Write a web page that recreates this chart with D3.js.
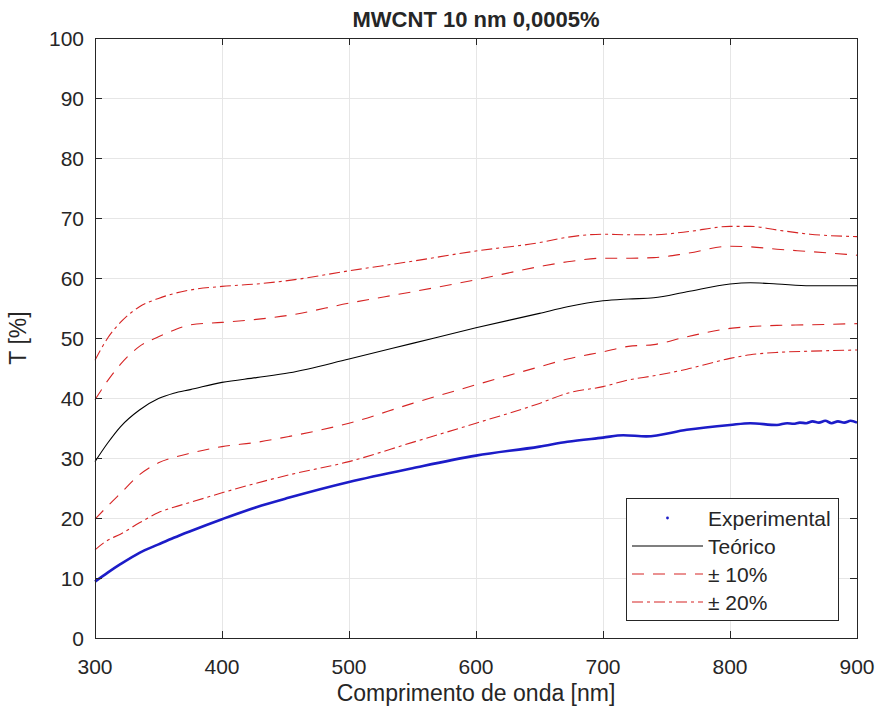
<!DOCTYPE html>
<html>
<head>
<meta charset="utf-8">
<script src="https://cdn.jsdelivr.net/npm/d3@7"></script>
<style>
  body { margin: 0; background: #fff; }
  text { font-family: "Liberation Sans", Arial, sans-serif; fill: #262626; }
</style>
</head>
<body>
<svg id="chart" width="882" height="717"></svg>
<script>
// wavelengths [nm] for the model curves
const lambda = [300, 310, 320, 335, 350, 362, 375, 400, 427, 453, 500, 550, 600,
  650, 672, 700, 720, 740, 766, 800, 816, 837, 863, 900];

const teorico = [29.4, 32.5, 35.2, 38, 39.9, 40.8, 41.4, 42.6, 43.4, 44.2, 46.5, 49.1,
  51.7, 54.1, 55.2, 56.2, 56.5, 56.7, 57.7, 59, 59.2, 59, 58.7, 58.7];
const plus10 = [39.7, 42.9, 45.6, 48.6, 50.2, 51.3, 52.2, 52.6, 53.1, 53.8, 55.8, 57.7,
  59.7, 61.9, 62.7, 63.3, 63.3, 63.4, 64.1, 65.3, 65.2, 64.8, 64.4, 63.8];
const minus10 = [19.8, 22, 24.1, 27.2, 29.2, 30.1, 30.8, 31.9, 32.6, 33.6, 35.8, 39.1,
  42.2, 45.2, 46.5, 47.7, 48.6, 48.9, 50.2, 51.6, 51.9, 52.1, 52.2, 52.4];
const plus20 = [46.3, 50, 52.6, 55.2, 56.6, 57.4, 58, 58.6, 59, 59.6, 61.2, 62.8,
  64.5, 65.9, 66.8, 67.3, 67.2, 67.2, 67.7, 68.6, 68.6, 68, 67.3, 66.9];
const minus20 = [14.7, 16.3, 17.3, 19.2, 20.9, 21.8, 22.6, 24.2, 25.8, 27.2, 29.4, 32.6,
  35.8, 39.1, 40.8, 41.9, 43, 43.7, 44.8, 46.6, 47.2, 47.6, 47.8, 48];

// measured spectrum
const lambdaExp = [300, 310, 320, 335, 350, 362, 375, 400, 427, 453, 500, 550, 600, 650,
  672, 700, 716, 734, 766, 800, 816, 837, 845, 850, 855, 860, 865, 870, 875, 880, 885,
  890, 895, 900];
const experimental = [9.4, 10.9, 12.3, 14.2, 15.6, 16.7, 17.8, 19.8, 21.8, 23.4, 26, 28.3,
  30.4, 31.9, 32.7, 33.4, 33.8, 33.6, 34.7, 35.5, 35.8, 35.5, 35.8, 35.7, 35.9, 35.8,
  36.1, 35.9, 36.2, 35.8, 36.1, 35.9, 36.2, 35.9];

const xTicks = [300, 400, 500, 600, 700, 800, 900];
const yTicks = [0, 10, 20, 30, 40, 50, 60, 70, 80, 90, 100];

const title = "MWCNT 10 nm 0,0005%";
const xLabel = "Comprimento de onda [nm]";
const yLabel = "T [%]";
const legendLabels = ["Experimental", "Teórico", "± 10%", "± 20%"];

const svg = d3.select("#chart"),
  plotLeft = 95,
  plotRight = 857,
  plotTop = 38,
  plotBottom = 638,
  axisColor = "#262626",
  gridColor = "#e6e6e6",
  red = "#d62424",
  blue = "#1c1cc8";

const x = d3.scaleLinear().domain([300, 900]).range([plotLeft, plotRight]);
const y = d3.scaleLinear().domain([0, 100]).range([plotBottom, plotTop]);

// grid
const grid = svg.append("g").attr("stroke", gridColor).attr("stroke-width", 1)
  .attr("shape-rendering", "crispEdges");
grid.selectAll(".gx").data(xTicks.slice(1, -1)).enter().append("line")
  .attr("x1", x).attr("x2", x).attr("y1", plotTop).attr("y2", plotBottom);
grid.selectAll(".gy").data(yTicks.slice(1, -1)).enter().append("line")
  .attr("y1", y).attr("y2", y).attr("x1", plotLeft).attr("x2", plotRight);

// curves
const line = (xs) => d3.line()
  .x((d, i) => x(xs[i]))
  .y((d) => y(d))
  .curve(d3.curveMonotoneX);

const plot = svg.append("g").attr("fill", "none");

[
  { data: minus20, dash: "11,4,3,4" },
  { data: plus20, dash: "11,4,3,4" },
  { data: minus10, dash: "12,9" },
  { data: plus10, dash: "12,9" },
].forEach((s) => {
  plot.append("path")
    .attr("d", line(lambda)(s.data))
    .attr("stroke", red)
    .attr("stroke-width", 1.1)
    .attr("stroke-dasharray", s.dash);
});

plot.append("path")
  .attr("d", line(lambda)(teorico))
  .attr("stroke", "#000")
  .attr("stroke-width", 1.1);

plot.append("path")
  .attr("d", line(lambdaExp)(experimental))
  .attr("stroke", blue)
  .attr("stroke-width", 2.6)
  .attr("stroke-linejoin", "round");

// axes box with inward ticks on all sides
const axes = svg.append("g").attr("stroke", axisColor).attr("stroke-width", 1)
  .attr("shape-rendering", "crispEdges");
axes.append("rect")
  .attr("x", plotLeft).attr("y", plotTop)
  .attr("width", plotRight - plotLeft).attr("height", plotBottom - plotTop)
  .attr("fill", "none");
const tickLen = 7;
xTicks.forEach((t) => {
  axes.append("line").attr("x1", x(t)).attr("x2", x(t)).attr("y1", plotBottom).attr("y2", plotBottom - tickLen);
  axes.append("line").attr("x1", x(t)).attr("x2", x(t)).attr("y1", plotTop).attr("y2", plotTop + tickLen);
});
yTicks.forEach((t) => {
  axes.append("line").attr("y1", y(t)).attr("y2", y(t)).attr("x1", plotLeft).attr("x2", plotLeft + tickLen);
  axes.append("line").attr("y1", y(t)).attr("y2", y(t)).attr("x1", plotRight).attr("x2", plotRight - tickLen);
});

// tick labels
svg.append("g").selectAll("text").data(xTicks).enter().append("text")
  .attr("x", x).attr("y", plotBottom + 36)
  .attr("text-anchor", "middle")
  .attr("font-size", 21)
  .text((d) => d);
svg.append("g").selectAll("text").data(yTicks).enter().append("text")
  .attr("x", plotLeft - 11).attr("y", (d) => y(d) + 7.5)
  .attr("text-anchor", "end")
  .attr("font-size", 21)
  .text((d) => d);

// labels
svg.append("text")
  .attr("x", (plotLeft + plotRight) / 2).attr("y", 27)
  .attr("text-anchor", "middle")
  .attr("font-size", 22).attr("font-weight", "bold")
  .attr("fill", "#000")
  .text(title);
svg.append("text")
  .attr("x", (plotLeft + plotRight) / 2).attr("y", 701)
  .attr("text-anchor", "middle")
  .attr("font-size", 23)
  .text(xLabel);
svg.append("text")
  .attr("transform", `translate(26,${(plotTop + plotBottom) / 2}) rotate(-90)`)
  .attr("text-anchor", "middle")
  .attr("font-size", 23)
  .text(yLabel);

// legend
const lg = svg.append("g");
lg.append("rect")
  .attr("x", 626.5).attr("y", 498.5).attr("width", 212).attr("height", 122)
  .attr("fill", "#fff").attr("stroke", axisColor).attr("stroke-width", 1);
const rowY = (i) => 518 + i * 28;
const sx1 = 632, sx2 = 703;
lg.append("circle").attr("cx", (sx1 + sx2) / 2).attr("cy", rowY(0)).attr("r", 1.4).attr("fill", blue);
lg.append("line").attr("x1", sx1).attr("x2", sx2).attr("y1", rowY(1)).attr("y2", rowY(1))
  .attr("stroke", "#000").attr("stroke-width", 1.1);
lg.append("line").attr("x1", sx1).attr("x2", sx2).attr("y1", rowY(2)).attr("y2", rowY(2))
  .attr("stroke", red).attr("stroke-width", 1.1).attr("stroke-dasharray", "12,9");
lg.append("line").attr("x1", sx1).attr("x2", sx2).attr("y1", rowY(3)).attr("y2", rowY(3))
  .attr("stroke", red).attr("stroke-width", 1.1).attr("stroke-dasharray", "11,4,3,4");
lg.selectAll(".lt").data(legendLabels).enter().append("text")
  .attr("x", 708).attr("y", (d, i) => rowY(i) + 7.5)
  .attr("font-size", 21)
  .text((d) => d);
</script>
</body>
</html>
